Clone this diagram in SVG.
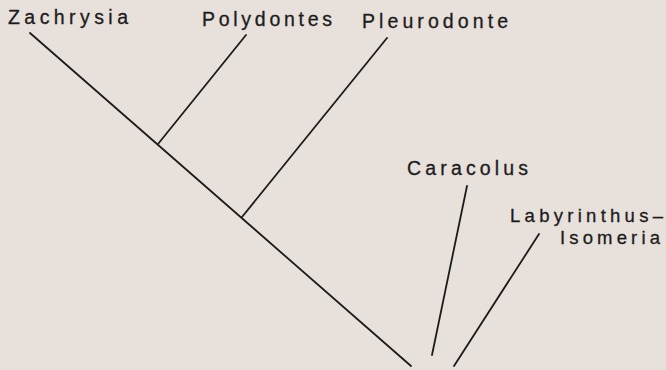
<svg xmlns="http://www.w3.org/2000/svg" width="666" height="370" viewBox="0 0 666 370">
<style>
.bg{fill:#e7e0db}
.lbl{font-family:"Liberation Sans",Arial,sans-serif;font-size:19.5px;fill:#1c1c1c;stroke:#1c1c1c;stroke-width:0.3}
.sm{font-size:18.5px}
.br{stroke:#1c1c1c;stroke-width:1.8;fill:none;stroke-linecap:round}
</style>
<rect class="bg" x="0" y="0" width="666" height="370"/>
<g id="connectors">
<line class="br" x1="30" y1="33" x2="411" y2="366"/>
<line class="br" x1="158" y1="144" x2="246" y2="35"/>
<line class="br" x1="242" y1="217" x2="387" y2="38"/>
<line class="br" x1="467" y1="186" x2="432" y2="355"/>
<line class="br" x1="539" y1="234" x2="454" y2="366"/>
</g>
<g id="zachrysia"><text class="lbl" x="8" y="24" textLength="120" lengthAdjust="spacing">Zachrysia</text></g>
<g id="polydontes"><text class="lbl" x="202" y="26" textLength="130" lengthAdjust="spacing">Polydontes</text></g>
<g id="pleurodonte"><text class="lbl" x="362" y="28" textLength="146" lengthAdjust="spacing">Pleurodonte</text></g>
<g id="caracolus"><text class="lbl" x="407" y="175" textLength="121" lengthAdjust="spacing">Caracolus</text></g>
<g id="labyrinthus-isomeria">
<text class="lbl sm" x="510" y="222" textLength="153" lengthAdjust="spacing">Labyrinthus–</text>
<text class="lbl sm" x="560" y="244" textLength="100" lengthAdjust="spacing">Isomeria</text>
</g>
</svg>
